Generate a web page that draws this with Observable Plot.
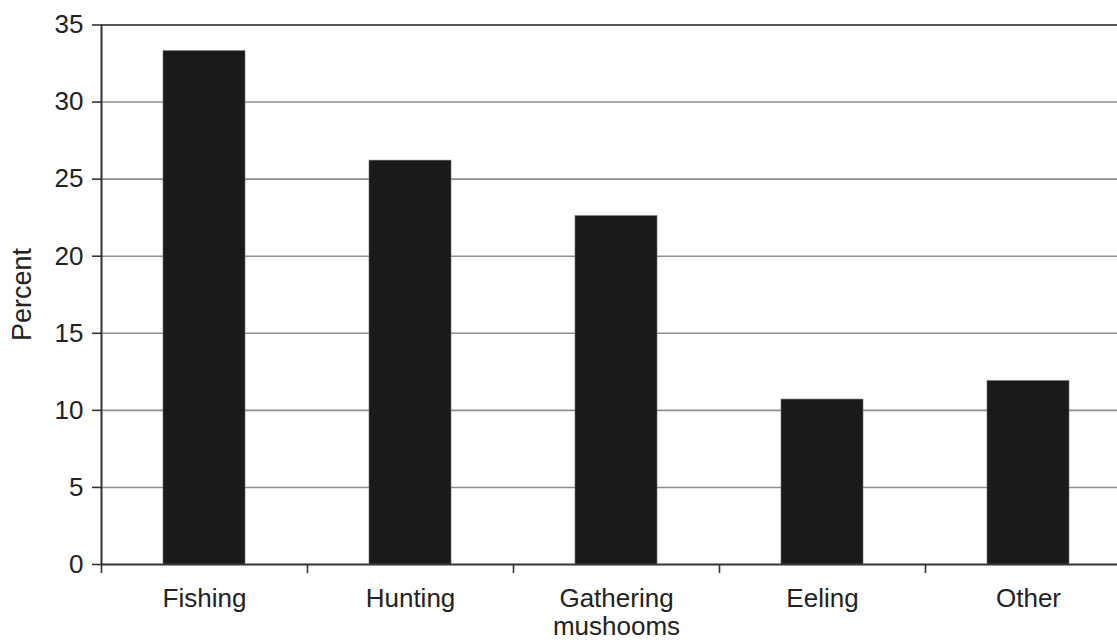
<!DOCTYPE html>
<html>
<head>
<meta charset="utf-8">
<script src="https://cdn.jsdelivr.net/npm/d3@7"></script>
<script src="https://cdn.jsdelivr.net/npm/@observablehq/plot@0.6"></script>
<style>
  html, body { margin: 0; padding: 0; background: #fff; overflow: hidden; }
  #chart svg { display: block; overflow: hidden; }
</style>
</head>
<body>
<div id="chart"></div>
<script>
const categories = ["Fishing", "Hunting", "Gathering\nmushooms", "Eeling", "Other"];
const percents = [33.3, 26.2, 22.6, 10.7, 11.9];
const yTicks = [0, 5, 10, 15, 20, 25, 30, 35];
const gridTicks = [5, 10, 15, 20, 25, 30];
const yLabel = "Percent";

const data = categories.map((c, i) => ({ i, c, v: percents[i] }));
const boundaries = d3.range(0, categories.length + 1);

const font = "'Liberation Sans', Arial, Helvetica, sans-serif";

const chart = Plot.plot({
  width: 1117,
  height: 642,
  marginLeft: 101,
  marginRight: 0,
  marginTop: 24,
  marginBottom: 78,
  style: { fontFamily: font, fontSize: "26px", color: "#222", background: "#fff" },
  x: { type: "linear", domain: [0, categories.length], range: [101, 1131] },
  y: { type: "linear", domain: [0, 35], range: [564, 24.5] },
  marks: [
    Plot.ruleY(gridTicks, { y: d => d, x1: 0, x2: categories.length, stroke: "#8f8f8f", strokeWidth: 1.6 }),
    Plot.ruleY([35], { y: d => d, x1: 0, x2: categories.length, stroke: "#555", strokeWidth: 2 }),
    Plot.rectY(data, { x1: "i", x2: d => d.i + 1, y: "v", insetLeft: 62, insetRight: 62, fill: "#1a1a1a", stroke: "#6a6a6a", strokeWidth: 0.6 }),
    Plot.ruleY([0], { y: d => d, x1: 0, x2: categories.length, stroke: "#333", strokeWidth: 2 }),
    Plot.ruleX([0], { x: d => d, y1: 0, y2: 35, stroke: "#333", strokeWidth: 2 }),
    Plot.axisY({ ticks: yTicks, tickSize: 9, tickPadding: 9, tickFormat: d => String(d), fontSize: 26, stroke: "#333", strokeWidth: 1.6, label: null, fill: "#222" }),
    Plot.axisX({ ticks: boundaries, tickSize: 9, tickFormat: () => "", stroke: "#333", strokeWidth: 1.6, label: null }),
    Plot.text(data, { x: d => d.i + 0.5, y: () => 0, text: "c", lineAnchor: "top", dy: 23, lineHeight: 1.07, fontSize: 26, fill: "#222" }),
    Plot.text([yLabel], { frameAnchor: "left", rotate: -90, dx: -79, fontSize: 27, fill: "#222", textAnchor: "middle" })
  ]
});
document.getElementById("chart").appendChild(chart);
</script>
</body>
</html>
